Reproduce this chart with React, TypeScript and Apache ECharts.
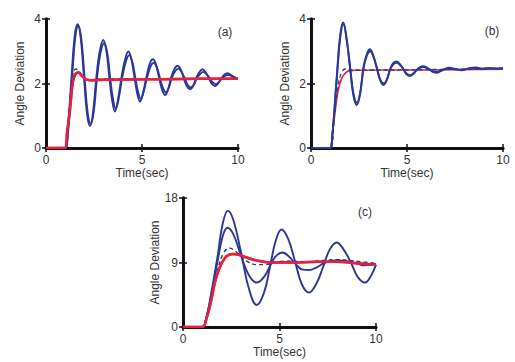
import React, { useEffect, useRef } from "react";
import * as echarts from "echarts";

type P = [number, number];

// Panel (a)
const aBlue1: P[] = [[0,0],[1.0,0],[1.1,0.3],[1.33,2.2],[1.5,3.5],[1.65,3.84],[1.8,3.45],[1.97,2.26],[2.14,1.05],[2.29,0.68],[2.44,1.05],[2.63,2.24],[2.8,3.0],[2.98,3.35],[3.15,3.0],[3.29,2.24],[3.44,1.5],[3.59,1.13],[3.75,1.5],[3.94,2.22],[4.12,2.75],[4.29,2.99],[4.45,2.75],[4.6,2.22],[4.75,1.7],[4.9,1.44],[5.05,1.7],[5.23,2.2],[5.4,2.6],[5.56,2.75],[5.72,2.6],[5.88,2.2],[6.04,1.82],[6.2,1.64],[6.36,1.82],[6.52,2.19],[6.69,2.45],[6.85,2.55],[7.0,2.45],[7.17,2.18],[7.33,1.92],[7.5,1.82],[7.66,1.92],[7.83,2.18],[8.0,2.36],[8.15,2.44],[8.3,2.36],[8.47,2.18],[8.63,2.0],[8.8,1.92],[8.96,2.0],[9.12,2.15],[9.3,2.28],[9.45,2.32],[9.6,2.28],[9.8,2.2],[10,2.15]];
const aBlue2: P[] = [[0,0],[1.0,0],[1.12,0.3],[1.36,2.2],[1.53,3.45],[1.68,3.8],[1.83,3.42],[2.0,2.26],[2.17,1.1],[2.33,0.75],[2.48,1.1],[2.67,2.24],[2.84,2.95],[3.02,3.25],[3.19,2.95],[3.33,2.24],[3.48,1.55],[3.63,1.22],[3.79,1.55],[3.98,2.22],[4.16,2.68],[4.33,2.88],[4.49,2.68],[4.64,2.22],[4.79,1.75],[4.94,1.52],[5.09,1.75],[5.27,2.2],[5.44,2.52],[5.6,2.64],[5.76,2.52],[5.92,2.2],[6.08,1.88],[6.24,1.72],[6.4,1.88],[6.56,2.19],[6.73,2.38],[6.89,2.46],[7.04,2.38],[7.21,2.18],[7.37,1.96],[7.54,1.88],[7.7,1.96],[7.87,2.18],[8.04,2.3],[8.19,2.36],[8.34,2.3],[8.51,2.18],[8.67,2.04],[8.84,1.98],[9.0,2.04],[9.16,2.16],[9.34,2.24],[9.49,2.27],[9.64,2.24],[9.84,2.18],[10,2.14]];
const aBlueDash: P[] = [[0,0],[1.0,0],[1.2,1.2],[1.4,2.3],[1.55,2.45],[1.7,2.4],[1.9,2.2],[2.2,2.12],[3,2.14],[5,2.15],[10,2.15]];
const aRed: P[] = [[0,0],[0.98,0],[1.1,0.5],[1.25,1.2],[1.4,2.05],[1.55,2.31],[1.7,2.34],[1.85,2.25],[2.05,2.14],[2.3,2.1],[3,2.12],[5,2.13],[7,2.14],[10,2.15]];

// Panel (b)
const bBlue1: P[] = [[0,0],[1.0,0],[1.1,0.3],[1.34,2.2],[1.52,3.5],[1.68,3.89],[1.85,3.4],[2.03,2.5],[2.2,1.65],[2.38,1.33],[2.55,1.65],[2.73,2.5],[2.9,2.9],[3.07,3.06],[3.25,2.85],[3.42,2.5],[3.6,2.1],[3.77,1.95],[3.94,2.1],[4.12,2.45],[4.29,2.64],[4.46,2.68],[4.63,2.6],[4.81,2.45],[4.98,2.28],[5.16,2.23],[5.33,2.3],[5.5,2.42],[5.68,2.51],[5.85,2.54],[6.02,2.5],[6.2,2.42],[6.38,2.35],[6.55,2.33],[6.75,2.38],[6.95,2.44],[7.2,2.49],[7.5,2.45],[7.85,2.41],[8.2,2.47],[8.6,2.5],[8.9,2.45],[9.3,2.48],[9.7,2.46],[10,2.48]];
const bBlue2: P[] = [[0,0],[1.0,0],[1.1,0.3],[1.35,2.2],[1.53,3.45],[1.69,3.84],[1.86,3.36],[2.04,2.5],[2.21,1.7],[2.39,1.4],[2.56,1.7],[2.74,2.48],[2.91,2.86],[3.08,3.0],[3.26,2.82],[3.43,2.48],[3.61,2.12],[3.78,2.0],[3.95,2.12],[4.13,2.44],[4.3,2.6],[4.47,2.64],[4.64,2.57],[4.82,2.44],[4.99,2.3],[5.17,2.26],[5.34,2.32],[5.51,2.42],[5.69,2.49],[5.86,2.51],[6.03,2.48],[6.21,2.42],[6.39,2.37],[6.56,2.36],[6.76,2.4],[6.96,2.45],[7.2,2.47],[7.5,2.44],[7.85,2.43],[8.2,2.46],[8.6,2.48],[8.9,2.46],[9.3,2.47],[9.7,2.47],[10,2.47]];
const bBlueDash: P[] = [[0,0],[1.0,0],[1.2,0.9],[1.4,1.9],[1.6,2.35],[1.8,2.45],[2.05,2.42],[3,2.42],[5,2.42],[6,2.43],[10,2.46]];
const bRed: P[] = [[0,0],[0.98,0],[1.1,0.4],[1.25,1.1],[1.42,1.8],[1.6,2.16],[1.8,2.33],[2.03,2.4],[2.5,2.41],[4,2.42],[6,2.42],[10,2.44]];

// Panel (c)
const cBlue1: P[] = [[0,0],[1.0,0],[1.2,1.2],[1.45,4.5],[1.8,10.0],[2.05,14.3],[2.32,16.2],[2.6,15.0],[3.0,10.5],[3.4,5.5],[3.82,3.07],[4.2,4.8],[4.5,8.3],[4.8,12.0],[5.1,13.6],[5.45,12.3],[5.8,9.2],[6.15,6.0],[6.53,4.8],[6.9,6.0],[7.25,8.3],[7.6,10.8],[7.96,11.8],[8.3,10.9],[8.7,9.0],[9.05,7.0],[9.43,6.2],[9.75,7.2],[10,8.7]];
const cBlue2: P[] = [[0,0],[1.0,0],[1.2,1.2],[1.45,4.3],[1.8,9.3],[2.05,12.6],[2.3,13.85],[2.6,13.0],[3.0,10.0],[3.4,7.3],[3.82,6.2],[4.2,7.0],[4.6,9.0],[4.85,10.0],[5.15,10.4],[5.5,9.8],[5.9,8.6],[6.2,8.0],[6.55,7.95],[6.9,8.3],[7.3,8.9],[7.7,9.25],[8.0,9.3],[8.5,9.2],[9.0,8.9],[9.4,8.6],[10,8.8]];
const cBlueDash: P[] = [[0,0],[1.0,0],[1.2,1.1],[1.5,4.3],[1.8,8.0],[2.1,10.3],[2.4,11.0],[2.8,10.4],[3.3,9.2],[3.8,8.7],[4.2,8.7],[4.9,9.1],[5.5,9.2],[6.5,9.1],[7.3,9.3],[8,9.4],[8.6,9.3],[9.2,9.1],[10,8.9]];
const cRed: P[] = [[0,0],[1.0,0],[1.2,1.0],[1.47,3.8],[1.73,7.0],[2.16,9.6],[2.6,10.2],[2.85,10.1],[3.3,9.7],[3.8,9.3],[4.5,9.0],[5.5,9.0],[7,9.1],[8,9.1],[9,8.9],[10,8.7]];

const yMaxes = [4, 4, 18];
const yIntervals = [2, 2, 9];
const xTicks = { min: 0, max: 10, interval: 5 };
const panelLabels = ["(a)", "(b)", "(c)"];
const xName = "Time(sec)";
const yName = "Angle Deviation";

const BLUE = "#2d3896";
const RED = "#e8213c";
const FONT = "Liberation Sans, Arial, sans-serif";

export default function App() {
  const ref = useRef<HTMLDivElement>(null);
  useEffect(() => {
    if (!ref.current) return;
    const chart = echarts.init(ref.current, undefined, { renderer: "svg" });
    const grids = [
      { left: 46, top: 19, width: 192, height: 129 },
      { left: 311, top: 19, width: 192, height: 129 },
      { left: 183, top: 198, width: 193, height: 129 },
    ];
    const lineStyleAxis = { color: "#111", width: 2.8 };
    const xAxis: any[] = [];
    const yAxis: any[] = [];
    grids.forEach((_, i) => {
      xAxis.push({
        type: "value", gridIndex: i, ...xTicks, position: "bottom",
        name: xName, nameLocation: "middle", nameGap: 18,
        nameTextStyle: { color: "#333", fontSize: 12, fontFamily: FONT },
        axisLine: { show: true, lineStyle: lineStyleAxis },
        axisTick: { show: true, inside: true, length: 4, lineStyle: { color: "#111", width: 1.5 } },
        axisLabel: { color: "#333", fontSize: 12, fontFamily: FONT, margin: 6 },
        splitLine: { show: false },
      });
      xAxis.push({
        type: "value", gridIndex: i, ...xTicks, position: "top",
        axisLine: { show: true, lineStyle: lineStyleAxis },
        axisTick: { show: true, inside: true, length: 4, lineStyle: { color: "#111", width: 1.5 } },
        axisLabel: { show: false },
        splitLine: { show: false },
      });
      yAxis.push({
        type: "value", gridIndex: i, min: 0, max: yMaxes[i], interval: yIntervals[i], position: "left",
        name: yName, nameLocation: "middle", nameRotate: 90, nameGap: 20,
        nameTextStyle: { color: "#333", fontSize: 12, fontFamily: FONT },
        axisLine: { show: true, lineStyle: lineStyleAxis },
        axisTick: { show: true, inside: true, length: 4, lineStyle: { color: "#111", width: 1.5 } },
        axisLabel: { color: "#333", fontSize: 12, fontFamily: FONT, margin: 5 },
        splitLine: { show: false },
      });
      yAxis.push({
        type: "value", gridIndex: i, min: 0, max: yMaxes[i], interval: yIntervals[i], position: "right",
        axisLine: { show: true, lineStyle: lineStyleAxis },
        axisTick: { show: true, inside: true, length: 4, lineStyle: { color: "#111", width: 1.5 } },
        axisLabel: { show: false },
        splitLine: { show: false },
      });
    });
    const panels = [
      [aBlue1, aBlue2, aBlueDash, aRed],
      [bBlue1, bBlue2, bBlueDash, bRed],
      [cBlue1, cBlue2, cBlueDash, cRed],
    ];
    const series: any[] = [];
    panels.forEach((p, i) => {
      const base = { type: "line", xAxisIndex: 2 * i, yAxisIndex: 2 * i, showSymbol: false, smooth: 0.4, silent: true };
      series.push({ ...base, data: p[3], lineStyle: { color: RED, width: i === 1 ? 1.6 : 2.5 }, z: 2 });
      series.push({ ...base, data: p[2], lineStyle: { color: BLUE, width: 1.4, type: [4, 3] }, z: 3 });
      series.push({ ...base, data: p[0], lineStyle: { color: BLUE, width: 1.9 }, z: 3 });
      series.push({ ...base, data: p[1], lineStyle: { color: BLUE, width: 1.9 }, z: 3 });
      if (i !== 1) {
        series.push({ ...base, data: p[3], lineStyle: { color: RED, width: 2.5 }, z: 4 });
      }
    });
    const labelPos = [[225, 32], [492, 31], [365, 212]];
    chart.setOption({
      animation: false,
      backgroundColor: "#fff",
      grid: grids,
      xAxis,
      yAxis,
      series,
      graphic: panelLabels.map((t, i) => ({
        type: "text", x: labelPos[i][0], y: labelPos[i][1],
        style: { text: t, fill: "#333", fontSize: 12, fontFamily: FONT, align: "center", verticalAlign: "middle" },
      })),
    });
    return () => chart.dispose();
  }, []);
  return <div ref={ref} style={{ position: "fixed", left: 0, top: 0, width: 515, height: 362 }} />;
}
